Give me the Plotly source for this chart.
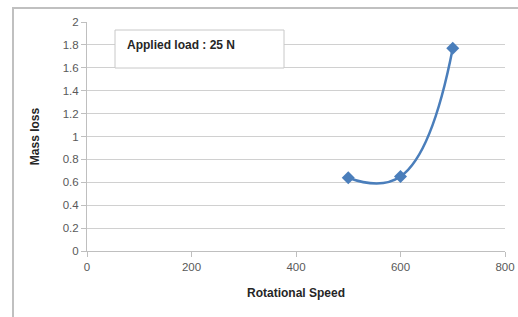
import plotly.graph_objects as go

speed = [500, 600, 700]
mass_loss = [0.64, 0.65, 1.77]
x_ticks = [0, 200, 400, 600, 800]
y_ticks = [0, 0.2, 0.4, 0.6, 0.8, 1, 1.2, 1.4, 1.6, 1.8, 2]
y_labels = ["0", "0.2", "0.4", "0.6", "0.8", "1", "1.2", "1.4", "1.6", "1.8", "2"]

blue = "#4a7ebb"
fig = go.Figure()
fig.add_trace(go.Scatter(
    x=speed, y=mass_loss, mode="lines+markers",
    line=dict(color=blue, width=2.5, shape="spline", smoothing=1.3),
    marker=dict(symbol="diamond", size=10, color=blue),
    showlegend=False,
))

PW, PH = 418, 229
font = "Liberation Sans"
fig.update_layout(
    width=518, height=317,
    margin=dict(l=87, r=13, t=22, b=66),
    paper_bgcolor="white", plot_bgcolor="white",
    font=dict(family=font, size=11.5, color="#595959"),
    xaxis=dict(range=[0, 800], tickvals=x_ticks, ticktext=[str(v) for v in x_ticks],
               showgrid=False, zeroline=False, showline=True, linecolor="#bfbfbf",
               ticks="outside", ticklen=5, tickcolor="#bfbfbf", automargin=False,
               title=dict(text="<b>Rotational Speed</b>", font=dict(size=12, color="#262626"), standoff=16)),
    yaxis=dict(range=[0, 2], tickvals=y_ticks, ticktext=y_labels,
               showgrid=True, gridcolor="#d0d0d0", gridwidth=1, zeroline=False,
               showline=True, linecolor="#bfbfbf", automargin=False,
               ticks="outside", ticklen=5, tickcolor="#bfbfbf",
               title=dict(text="<b>Mass loss</b>", font=dict(size=12, color="#262626"), standoff=20)),
    shapes=[
        dict(type="line", xref="paper", yref="paper", layer="above",
             x0=-(87-13)/PW, x1=-(87-13)/PW, y0=1 + 14.5/PH, y1=-66/PH,
             line=dict(color="#c0c0c0", width=2)),
        dict(type="rect", xref="paper", yref="paper", x0=(115-87)/PW, x1=(284-87)/PW,
             y0=(251-68)/PH, y1=(251-30)/PH, line=dict(color="#c8c8c8", width=1),
             fillcolor="white"),
    ],
    annotations=[
        dict(text="<b>Applied load : 25 N</b>", xref="paper", yref="paper",
             x=(125-87)/PW, y=(251-45)/PH, xanchor="left", yanchor="middle",
             showarrow=False, font=dict(size=12, color="#262626")),
    ],
)
fig.write_html(
    "out.html",
    config={"displayModeBar": False},
    post_script="document.documentElement.style.overflow='hidden';"
                "document.body.style.margin='0';document.body.style.overflow='hidden';"
                "var f=document.createElement('div');"
                "f.style.cssText='position:absolute;left:12px;top:7px;width:600px;height:0;"
                "border-top:2px solid #c0c0c0;pointer-events:none;z-index:10;';"
                "document.body.appendChild(f);",
)
